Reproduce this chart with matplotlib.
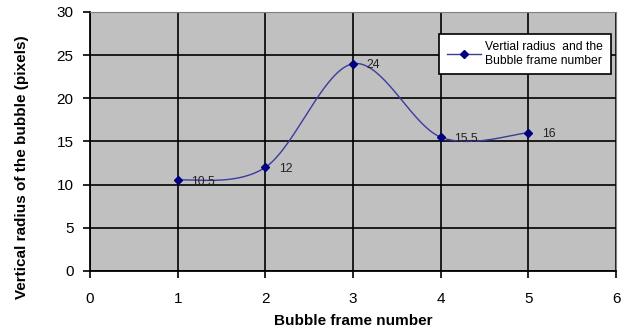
import numpy as np
import matplotlib.pyplot as plt

plt.rcParams['font.family'] = ['Liberation Sans', 'DejaVu Sans']

frames = [1, 2, 3, 4, 5]
radius = [10.5, 12, 24, 15.5, 16]
labels = ['10.5', '12', '24', '15.5', '16']


def smooth(xs, ys, n=40):
    # excel style smoothed line: bezier through points, tangents (p[i+1]-p[i-1])/6
    p = np.column_stack([xs, ys]).astype(float)
    p_ext = np.vstack([p[0], p, p[-1]])
    out = []
    for i in range(len(p) - 1):
        p0, p1, p2, p3 = p_ext[i], p_ext[i + 1], p_ext[i + 2], p_ext[i + 3]
        c1 = p1 + (p2 - p0) / 6
        c2 = p2 - (p3 - p1) / 6
        t = np.linspace(0, 1, n)[:, None]
        seg = (1 - t) ** 3 * p1 + 3 * (1 - t) ** 2 * t * c1 + 3 * (1 - t) * t ** 2 * c2 + t ** 3 * p2
        out.append(seg)
    out = np.vstack(out)
    return out[:, 0], out[:, 1]


fig = plt.figure(figsize=(6.21, 3.32), dpi=100)
ax = fig.add_axes([0.145, 0.184, 0.847, 0.780])
ax.set_facecolor('#c0c0c0')

sx, sy = smooth(frames, radius)
ax.plot(sx, sy, color='#3b3b9e', lw=1.0, zorder=3)
ax.plot(frames, radius, ls='none', marker='D', ms=4.5, color='#000080', zorder=4)
ax.plot([], [], color='#3b3b9e', lw=1.0, marker='D', ms=4, mfc='#000080', mec='#000080',
        label='Vertial radius  and the\nBubble frame number')

for x, y, s in zip(frames, radius, labels):
    ax.annotate(s, (x, y), xytext=(10, -1), textcoords='offset points', fontsize=8.8,
                va='center', ha='left', color='#222222', zorder=5)

ax.set_xlim(0, 6)
ax.set_ylim(0, 30)
ax.set_xticks(range(0, 7))
ax.set_yticks(range(0, 31, 5))
ax.grid(True, color='black', lw=1.2)
ax.set_axisbelow(True)
ax.tick_params(direction='out', length=5, width=1.2, labelsize=11, colors='black')
ax.tick_params(axis='x', pad=10)
ax.tick_params(axis='y', pad=7)
for sp in ['top', 'right']:
    ax.spines[sp].set_color('#808080')
for sp in ['left', 'bottom']:
    ax.spines[sp].set_color('black')
    ax.spines[sp].set_linewidth(1.3)

ax.set_xlabel('Bubble frame number', fontsize=11, fontweight='bold')
ax.set_ylabel('Vertical radius of the bubble (pixels)', fontsize=11, fontweight='bold')
ax.xaxis.label.set_va('center')
ax.yaxis.label.set_va('center')
ax.xaxis.set_label_coords(0.5, -0.193)
ax.yaxis.set_label_coords(-0.129, 0.40)

leg = ax.legend(loc='upper right', bbox_to_anchor=(1.001, 0.94), fontsize=8.7, frameon=True,
                fancybox=False, edgecolor='black', framealpha=1, handlelength=2.8,
                borderpad=0.6, handletextpad=0.4, labelspacing=0.3)
leg.get_frame().set_linewidth(1.2)

fig.savefig('out.png', dpi=100)
